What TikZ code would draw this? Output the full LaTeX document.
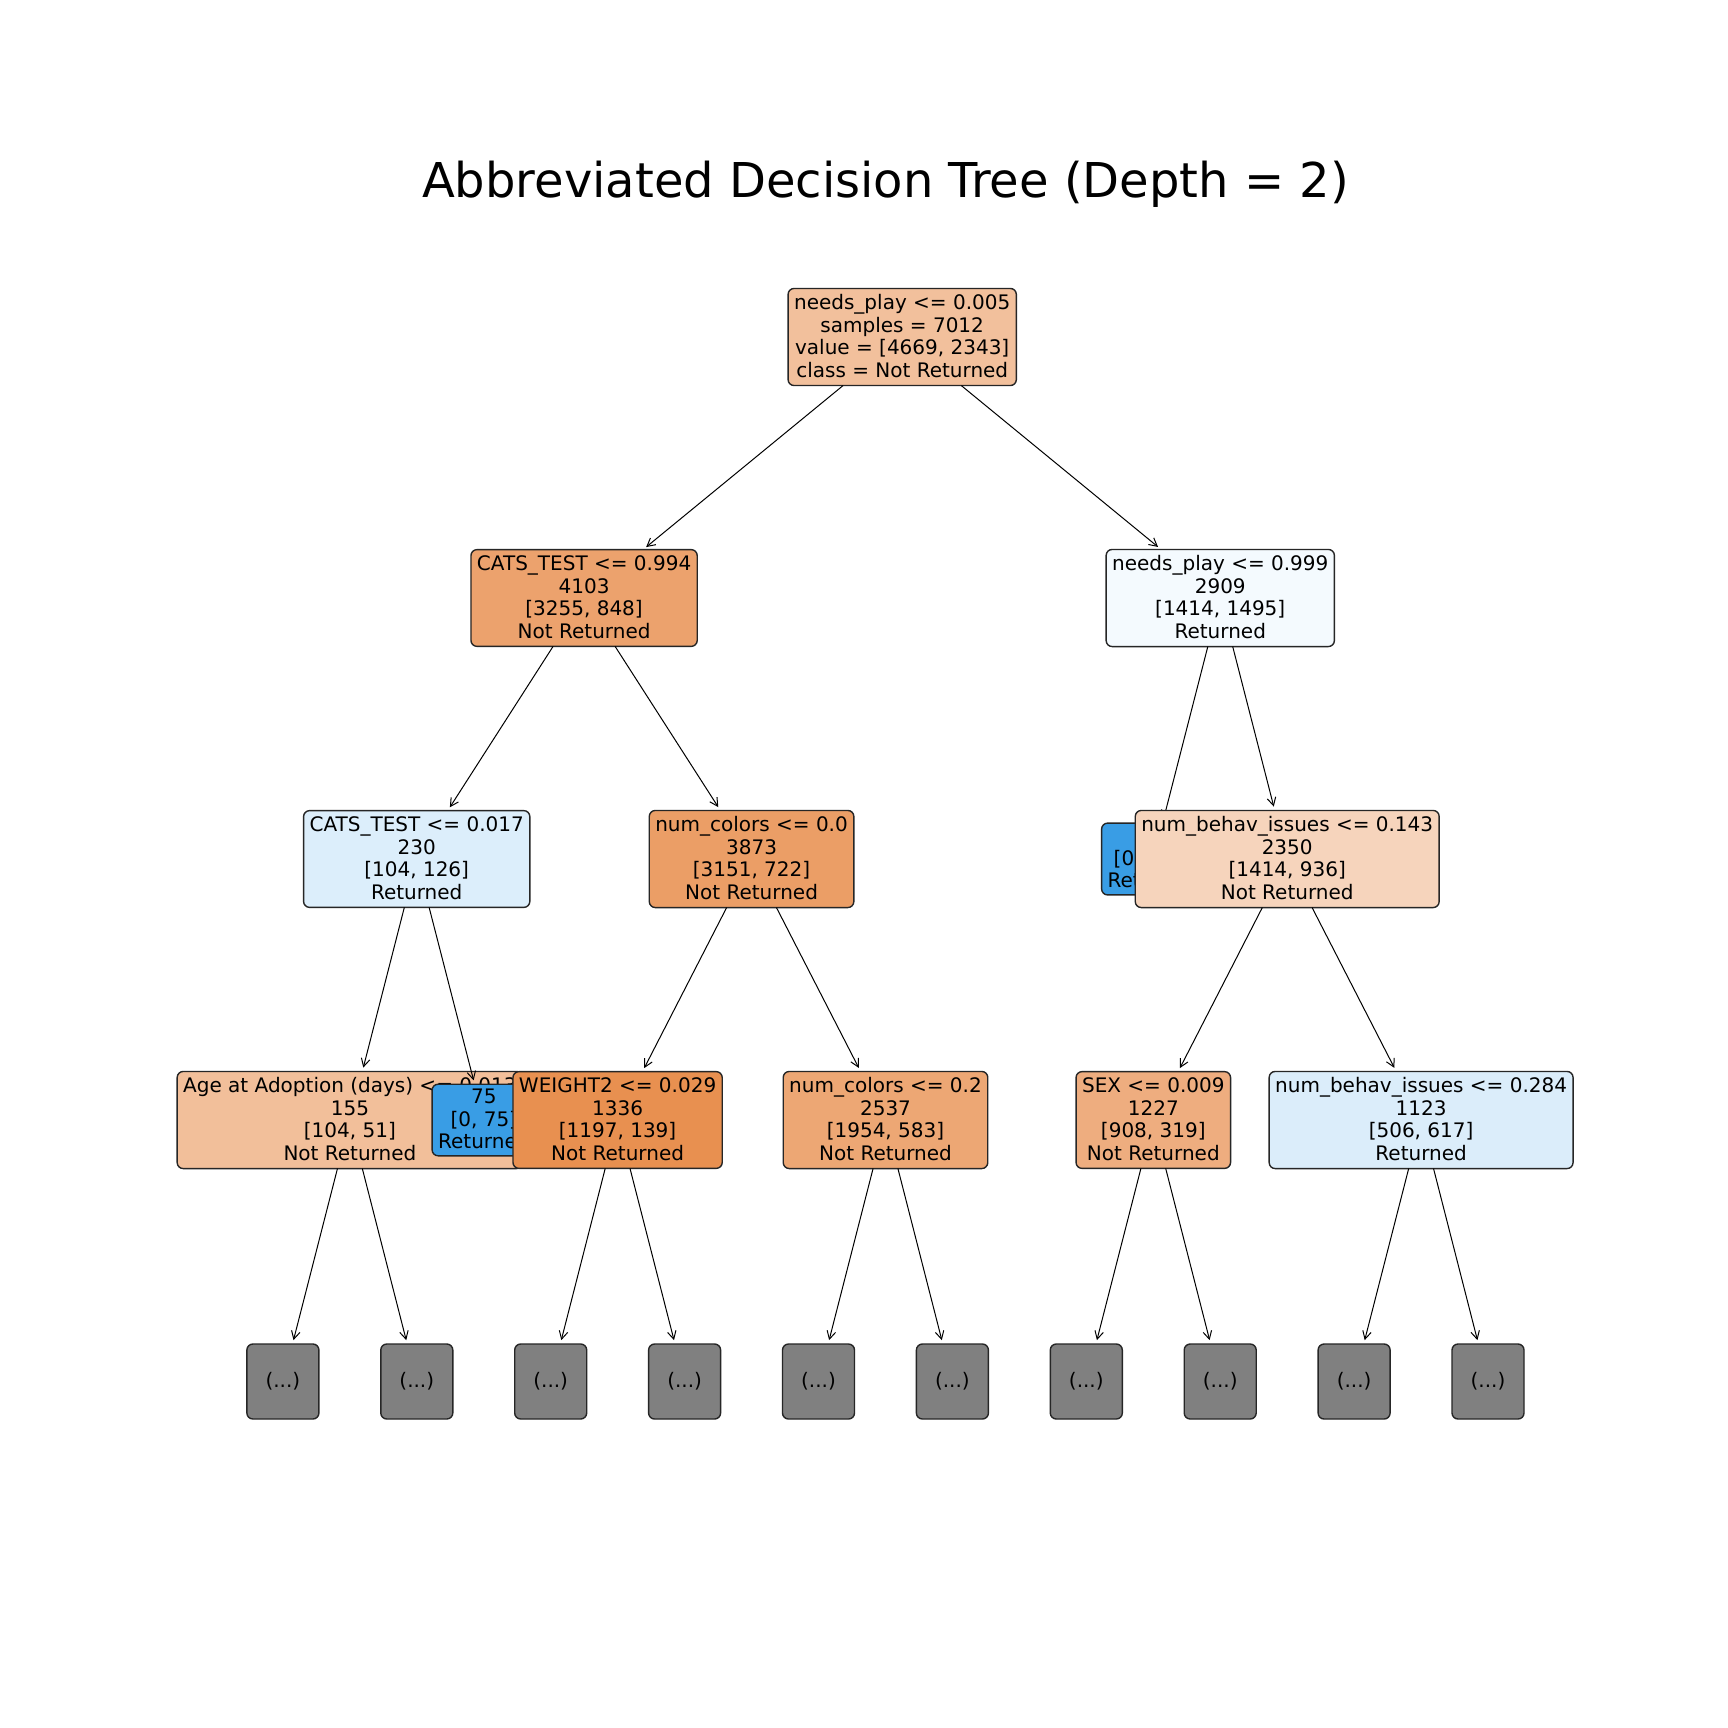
\documentclass[tikz,border=0pt]{standalone}
\usepackage{fontspec}
\setmainfont{DejaVu Sans}
\usetikzlibrary{arrows.meta}
\definecolor{cRoot}{RGB}{242,192,156}
\definecolor{cCa}{RGB}{236,162,109}
\definecolor{cCb}{RGB}{244,250,254}
\definecolor{cCaa}{RGB}{220,238,251}
\definecolor{cCab}{RGB}{235,158,102}
\definecolor{cBlue}{RGB}{57,157,229}
\definecolor{cNBa}{RGB}{246,212,188}
\definecolor{cAge}{RGB}{242,191,154}
\definecolor{cWt}{RGB}{232,144,80}
\definecolor{cNCb}{RGB}{237,167,116}
\definecolor{cSex}{RGB}{238,173,127}
\definecolor{cNBb}{RGB}{219,237,250}
\definecolor{cGray}{RGB}{128,128,128}
\newcommand\topst{\rule{0pt}{0.9em}}
\newcommand\botst{\rule[-0.1em]{0pt}{0.1em}}
\begin{document}
\begin{tikzpicture}[x=0.5pt,y=-0.5pt,
  box/.style={draw=black!85, line width=0.7pt, rounded corners=3pt, align=center,
    inner xsep=3pt, outer sep=0pt, font=\fontsize{10pt}{11.25pt}\selectfont,
    execute at begin node=\topst, execute at end node=\botst},
  four/.style={box, inner ysep=3.1pt},
  three/.style={box, inner ysep=2.5pt},
  dots/.style={draw=black!85, line width=0.7pt, rounded corners=3pt, fill=cGray,
    minimum width=36pt, minimum height=37.5pt, inner sep=0pt, outer sep=0pt,
    font=\fontsize{10pt}{11.25pt}\selectfont},
  edge/.style={draw=black, line width=0.5pt, -{Straight Barb[length=4pt,width=4.3pt]}, shorten >=2pt}
]
\fill[white] (0,0) rectangle (1728,1728);
\useasboundingbox (0,0) rectangle (1728,1728);

\node[anchor=base, font=\fontsize{24pt}{28pt}\selectfont] (title) at (885.6,197.5) {Abbreviated Decision Tree (Depth = 2)};

% level 1
\node[four, fill=cRoot] (root) at (902.2,337) {needs\_play <= 0.005\\samples = 7012\\value = {[4669, 2343]}\\class = Not Returned};

% left subtree
\node[four, fill=cCa] (ca) at (584.1,598) {CATS\_TEST <= 0.994\\4103\\{}[3255, 848]\\Not Returned};
\draw[edge] (root) -- (ca);

\node[four, fill=cCaa] (caa) at (416.7,859) {CATS\_TEST <= 0.017\\230\\{}[104, 126]\\Returned};
\draw[edge] (ca) -- (caa);

\node[four, fill=cAge] (age) at (349.9,1120) {Age at Adoption (days) <= 0.013\\155\\{}[104, 51]\\Not Returned};
\draw[edge] (caa) -- (age);
\node[dots] (d1) at (282.9,1381.5) {(...)};
\draw[edge] (age) -- (d1);
\node[dots] (d2) at (416.8,1381.5) {(...)};
\draw[edge] (age) -- (d2);

\node[three, fill=cBlue] (lsf) at (483.8,1120) {75\\{}[0, 75]\\Returned};
\draw[edge] (caa) -- (lsf);

\node[four, fill=cCab] (cab) at (751.55,859) {num\_colors <= 0.0\\3873\\{}[3151, 722]\\Not Returned};
\draw[edge] (ca) -- (cab);

\node[four, fill=cWt] (wt) at (617.6,1120) {WEIGHT2 <= 0.029\\1336\\{}[1197, 139]\\Not Returned};
\draw[edge] (cab) -- (wt);
\node[dots] (d3) at (550.7,1381.5) {(...)};
\draw[edge] (wt) -- (d3);
\node[dots] (d4) at (684.6,1381.5) {(...)};
\draw[edge] (wt) -- (d4);

\node[four, fill=cNCb] (ncb) at (885.5,1120) {num\_colors <= 0.2\\2537\\{}[1954, 583]\\Not Returned};
\draw[edge] (cab) -- (ncb);
\node[dots] (d5) at (818.5,1381.5) {(...)};
\draw[edge] (ncb) -- (d5);
\node[dots] (d6) at (952.4,1381.5) {(...)};
\draw[edge] (ncb) -- (d6);

% right subtree
\node[four, fill=cCb] (cb) at (1220.25,598) {needs\_play <= 0.999\\2909\\{}[1414, 1495]\\Returned};
\draw[edge] (root) -- (cb);

\node[three, fill=cBlue] (lff) at (1153.3,859) {559\\{}[0, 559]\\Returned};
\draw[edge] (cb) -- (lff);

\node[four, fill=cNBa] (nba) at (1287.2,859) {num\_behav\_issues <= 0.143\\2350\\{}[1414, 936]\\Not Returned};
\draw[edge] (cb) -- (nba);

\node[four, fill=cSex] (sex) at (1153.3,1120) {SEX <= 0.009\\1227\\{}[908, 319]\\Not Returned};
\draw[edge] (nba) -- (sex);
\node[dots] (d7) at (1086.3,1381.5) {(...)};
\draw[edge] (sex) -- (d7);
\node[dots] (d8) at (1220.2,1381.5) {(...)};
\draw[edge] (sex) -- (d8);

\node[four, fill=cNBb] (nbb) at (1421.1,1120) {num\_behav\_issues <= 0.284\\1123\\{}[506, 617]\\Returned};
\draw[edge] (nba) -- (nbb);
\node[dots] (d9) at (1354.1,1381.5) {(...)};
\draw[edge] (nbb) -- (d9);
\node[dots] (d10) at (1488.0,1381.5) {(...)};
\draw[edge] (nbb) -- (d10);
\end{tikzpicture}
\end{document}
